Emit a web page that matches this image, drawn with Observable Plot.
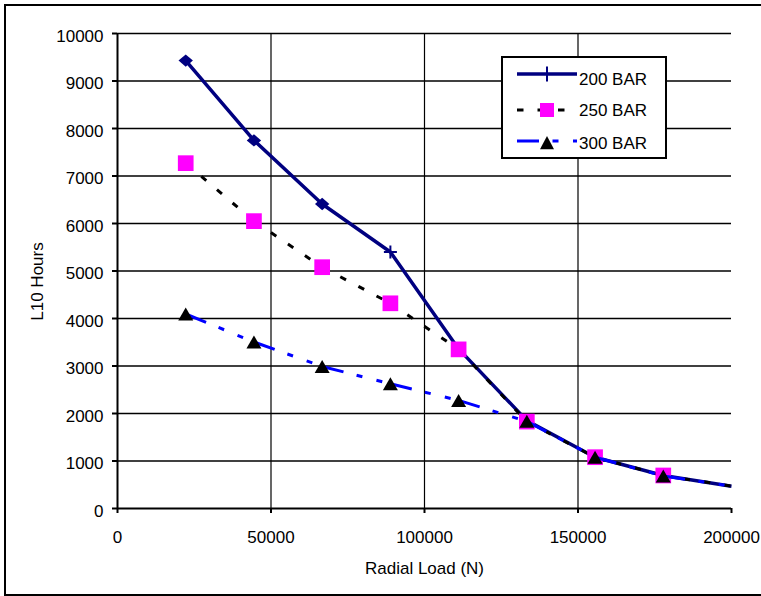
<!DOCTYPE html>
<html>
<head>
<meta charset="utf-8">
<script src="https://cdn.jsdelivr.net/npm/d3@7"></script>
<script src="https://cdn.jsdelivr.net/npm/@observablehq/plot@0.6"></script>
<style>
html, body { margin: 0; padding: 0; background: #fff; overflow: hidden; width: 761px; height: 596px; }
#wrap { position: relative; width: 761px; height: 596px; font-family: "Liberation Sans", Arial, sans-serif; }
#chart { position: absolute; left: 0; top: 0; }
#legend { position: absolute; left: 0; top: 0; z-index: 2; }
#border { position: absolute; left: 4px; top: 4px; width: 900px; height: 592px; border: 2.5px solid #000; box-sizing: border-box; pointer-events: none; z-index: 3; }
</style>
</head>
<body>
<div id="wrap">
  <div id="chart"></div>
  <svg id="legend" width="761" height="596"></svg>
  <div id="border"></div>
</div>
<script>
// ---- data ----
const loads  = [22222, 44444, 66667, 88889, 111111, 133333, 155556, 177778, 200000];
const bar200 = [9430, 7750, 6410, 5400, 3360, 1850, 1080, 695, 470];
const bar250 = [7270, 6050, 5080, 4320, 3350, 1830, 1080, 695, 470];
const bar300 = [4095, 3505, 2990, 2625, 2275, 1835, 1080, 685, 470];
const seriesNames = ["200 BAR", "250 BAR", "300 BAR"];
const xTicks = [0, 50000, 100000, 150000, 200000];
const yTicks = [0, 1000, 2000, 3000, 4000, 5000, 6000, 7000, 8000, 9000, 10000];
const xTitle = "Radial Load (N)";
const yTitle = "L10 Hours";

// ---- derived tables ----
const rows = loads.map((x, i) => ({i, x, b200: bar200[i], b250: bar250[i], b300: bar300[i]}));
const segs = key => rows.slice(0, -1).flatMap((d, i) => [
  {seg: i, x: d.x, y: d[key]},
  {seg: i, x: rows[i + 1].x, y: rows[i + 1][key]}
]);
const marked = rows.slice(0, 8);

const R = s => Math.sqrt(s / Math.PI);
const sym = {
  diamond: {draw(c, s) { const r = R(s); const h = r * 0.86; c.moveTo(0, -h); c.lineTo(r, 0); c.lineTo(0, h); c.lineTo(-r, 0); c.closePath(); }},
  plus: {draw(c, s) { const r = R(s); c.moveTo(-r, 0); c.lineTo(r, 0); c.moveTo(0, -r); c.lineTo(0, r); }},
  square: {draw(c, s) { const r = R(s); c.rect(-r, -r, 2 * r, 2 * r); }},
  triangle: {draw(c, s) { const r = R(s); const h = r * 0.867; c.moveTo(0, -h); c.lineTo(r, h); c.lineTo(-r, h); c.closePath(); }}
};

const FONT = "'Liberation Sans', Arial, sans-serif";
const NAVY = "#000080", MAG = "#FF00FF", BLUE = "#0000FF";
const DASH250 = "6.5,14", DASH300 = "22,13.5,6,14.5,6,14.5";

const chart = Plot.plot({
  width: 761,
  height: 596,
  marginLeft: 117,
  marginRight: 30,
  marginTop: 33,
  marginBottom: 88,
  style: {background: "transparent", fontFamily: FONT, fontSize: "17px", color: "#000", overflow: "visible"},
  x: {domain: [0, 200000]},
  y: {domain: [0, 10000]},
  marks: [
    Plot.ruleY(yTicks.filter(d => d > 0), {stroke: "#000", strokeWidth: 1.5}),
    Plot.ruleX(xTicks.filter(d => d > 0 && d < 200000), {stroke: "#000", strokeWidth: 1.2}),
    Plot.ruleX([0], {stroke: "#000", strokeWidth: 2}),
    Plot.ruleY([0], {stroke: "#000", strokeWidth: 2}),
    Plot.axisY({ticks: yTicks, tickSize: 5, fill: "none", stroke: "#000", strokeWidth: 2, label: null}),
    Plot.axisY({ticks: yTicks, tickSize: 5, tickPadding: 9, stroke: "none", fill: "#000", dy: 3, fontSize: 17, tickFormat: d => String(d), label: null}),
    Plot.axisX({ticks: xTicks, tickSize: 5, fill: "none", stroke: "#000", strokeWidth: 2, label: null}),
    Plot.axisX({ticks: xTicks, tickSize: 5, tickPadding: 17, stroke: "none", fill: "#000", fontSize: 17, tickFormat: d => String(d), label: null}),

    // 200 BAR
    Plot.line(rows, {x: "x", y: "b200", stroke: NAVY, strokeWidth: 3.5, strokeLinejoin: "round", strokeLinecap: "butt"}),
    Plot.dot(rows.slice(0, 3), {x: "x", y: "b200", symbol: sym.diamond, r: 7.2, fill: NAVY, stroke: "none"}),
    Plot.dot(rows.slice(3, 8), {x: "x", y: "b200", symbol: sym.plus, r: 6.5, fill: "none", stroke: NAVY, strokeWidth: 2}),

    // 250 BAR
    Plot.line(segs("b250"), {x: "x", y: "y", z: "seg", stroke: "#000", strokeWidth: 3, strokeDasharray: DASH250, strokeLinecap: "butt"}),
    Plot.dot(marked, {x: "x", y: "b250", symbol: sym.square, r: 7.85, fill: MAG, stroke: "none"}),

    // 300 BAR
    Plot.line(segs("b300"), {x: "x", y: "y", z: "seg", stroke: BLUE, strokeWidth: 3, strokeDasharray: DASH300, strokeLinecap: "butt"}),
    Plot.dot(marked, {x: "x", y: "b300", symbol: sym.triangle, r: 7.5, fill: "#000", stroke: "none"}),

    // titles
    Plot.text([xTitle], {text: d => d, frameAnchor: "bottom", textAnchor: "middle", lineAnchor: "middle", dy: 60, fontSize: 17, fill: "#000"}),
    Plot.text([yTitle], {text: d => d, frameAnchor: "left", textAnchor: "middle", lineAnchor: "middle", rotate: -90, dx: -79.5, dy: 10.5, fontSize: 17, fill: "#000"})
  ]
});
document.getElementById("chart").appendChild(chart);

// ---- legend ----
const lg = d3.select("#legend");
lg.append("rect").attr("x", 502).attr("y", 57).attr("width", 164).attr("height", 101)
  .attr("fill", "#fff").attr("stroke", "#000").attr("stroke-width", 2);
const rowY = [74, 110, 141];
const textY = [85, 116, 149];
const lineStyles = [
  {stroke: NAVY, width: 3.5, dash: null},
  {stroke: "#000", width: 3, dash: DASH250},
  {stroke: BLUE, width: 3, dash: DASH300}
];
seriesNames.forEach((name, k) => {
  const s = lineStyles[k];
  const ln = lg.append("line").attr("x1", 517).attr("x2", 577).attr("y1", rowY[k]).attr("y2", rowY[k])
    .attr("stroke", s.stroke).attr("stroke-width", s.width);
  if (s.dash) ln.attr("stroke-dasharray", s.dash);
  lg.append("text").attr("x", 579).attr("y", textY[k]).attr("font-family", FONT).attr("font-size", 17)
    .attr("fill", "#000").text(name);
});
lg.append("path").attr("d", `M547,${rowY[0] - 7.5}V${rowY[0] + 7.5}`).attr("stroke", NAVY).attr("stroke-width", 2);
lg.append("rect").attr("x", 540).attr("y", rowY[1] - 7).attr("width", 14).attr("height", 14).attr("fill", MAG);
lg.append("path").attr("d", `M547,${rowY[2] - 5}L554,${rowY[2] + 8.3}L540,${rowY[2] + 8.3}Z`).attr("fill", "#000");
</script>
</body>
</html>
